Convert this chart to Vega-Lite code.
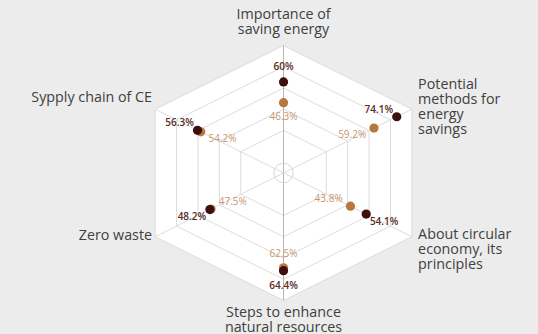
{
  "$schema": "https://vega.github.io/schema/vega-lite/v6.json",
  "width": 538,
  "height": 334,
  "autosize": {"type": "none"},
  "padding": 0,
  "background": "#ececec",
  "config": {"view": {"stroke": null}, "font": "Open Sans"},
  "datasets": {
    "scores": [
      {"k": 0, "category": "Importance of saving energy", "series": "orange", "value": 46.3},
      {"k": 1, "category": "Potential methods for energy savings", "series": "orange", "value": 59.2},
      {"k": 2, "category": "About circular economy, its principles", "series": "orange", "value": 43.8},
      {"k": 3, "category": "Steps to enhance natural resources", "series": "orange", "value": 62.5},
      {"k": 4, "category": "Zero waste", "series": "orange", "value": 47.5},
      {"k": 5, "category": "Sypply chain of CE", "series": "orange", "value": 54.2},
      {"k": 0, "category": "Importance of saving energy", "series": "dark", "value": 60},
      {"k": 1, "category": "Potential methods for energy savings", "series": "dark", "value": 74.1},
      {"k": 2, "category": "About circular economy, its principles", "series": "dark", "value": 54.1},
      {"k": 3, "category": "Steps to enhance natural resources", "series": "dark", "value": 64.4},
      {"k": 4, "category": "Zero waste", "series": "dark", "value": 48.2},
      {"k": 5, "category": "Sypply chain of CE", "series": "dark", "value": 56.3}
    ],
    "rings": [
      {"level": 2, "k": [0, 1, 2, 3, 4, 5, 6]},
      {"level": 3, "k": [0, 1, 2, 3, 4, 5, 6]},
      {"level": 4, "k": [0, 1, 2, 3, 4, 5, 6]},
      {"level": 5, "k": [0, 1, 2, 3, 4, 5, 6]},
      {"level": 6, "k": [0, 1, 2, 3, 4, 5, 6]}
    ],
    "spokes": [
      {"k": 0, "r": [0, 1]},
      {"k": 1, "r": [0, 1]},
      {"k": 2, "r": [0, 1]},
      {"k": 3, "r": [0, 1]},
      {"k": 4, "r": [0, 1]},
      {"k": 5, "r": [0, 1]}
    ],
    "hexfill": [
      {"k": 5, "k2": 4},
      {"k": 0, "k2": 3},
      {"k": 1, "k2": 2}
    ],
    "titles": [
      {"k": 0, "label": "Importance of\nsaving energy"},
      {"k": 1, "label": "Potential\nmethods for\nenergy\nsavings"},
      {"k": 2, "label": "About circular\neconomy, its\nprinciples"},
      {"k": 3, "label": "Steps to enhance\nnatural resources"},
      {"k": 4, "label": "Zero waste"},
      {"k": 5, "label": "Sypply chain of CE"}
    ]
  },
  "layer": [
    {
      "data": {"name": "hexfill"},
      "transform": [
        {"calculate": "sin(datum.k * PI / 3)", "as": "x"},
        {"calculate": "cos(datum.k * PI / 3)", "as": "y"},
        {"calculate": "cos(datum.k2 * PI / 3)", "as": "y2"}
      ],
      "mark": {"type": "area", "color": "#ffffff", "opacity": 1},
      "encoding": {
        "x": {"field": "x", "type": "quantitative", "scale": {"domain": [-1.913, 1.717], "nice": false, "zero": false}, "axis": null},
        "y": {"field": "y", "type": "quantitative", "scale": {"domain": [-1.263, 1.357], "nice": false, "zero": false}, "axis": null},
        "y2": {"field": "y2"}
      }
    },
    {
      "data": {"name": "rings"},
      "transform": [
        {"flatten": ["k"]},
        {"calculate": "datum.level / 6 * sin(datum.k * PI / 3)", "as": "x"},
        {"calculate": "datum.level / 6 * cos(datum.k * PI / 3)", "as": "y"}
      ],
      "mark": {"type": "line", "color": "#dcdcdc", "strokeWidth": 1},
      "encoding": {
        "x": {"field": "x", "type": "quantitative"},
        "y": {"field": "y", "type": "quantitative"},
        "detail": {"field": "level"},
        "order": {"field": "k", "type": "quantitative"}
      }
    },
    {
      "data": {"name": "spokes"},
      "transform": [
        {"flatten": ["r"]},
        {"calculate": "datum.r * sin(datum.k * PI / 3)", "as": "x"},
        {"calculate": "datum.r * cos(datum.k * PI / 3)", "as": "y"}
      ],
      "mark": {"type": "line", "strokeWidth": 1},
      "encoding": {
        "x": {"field": "x", "type": "quantitative"},
        "y": {"field": "y", "type": "quantitative"},
        "detail": {"field": "k"},
        "order": {"field": "r", "type": "quantitative"},
        "color": {"condition": {"test": "datum.k == 0 || datum.k == 3", "value": "#b4b4b4"}, "value": "#dcdcdc"}
      }
    },
    {
      "data": {"values": [{"c": 0}]},
      "mark": {"type": "point", "shape": "circle", "size": 380, "filled": false, "color": "#d6d6d6", "strokeWidth": 1, "opacity": 1},
      "encoding": {
        "x": {"field": "c", "type": "quantitative"},
        "y": {"field": "c", "type": "quantitative"}
      }
    },
    {
      "data": {"name": "scores"},
      "transform": [
        {"calculate": "datum.value / 84", "as": "r"},
        {"calculate": "datum.r * sin(datum.k * PI / 3)", "as": "x"},
        {"calculate": "datum.r * cos(datum.k * PI / 3)", "as": "y"}
      ],
      "mark": {"type": "circle", "size": 85, "opacity": 1},
      "encoding": {
        "x": {"field": "x", "type": "quantitative"},
        "y": {"field": "y", "type": "quantitative"},
        "color": {"field": "series", "type": "nominal", "scale": {"domain": ["dark", "orange"], "range": ["#3d0f0d", "#b8773c"]}, "legend": null}
      }
    },
    {
      "data": {"name": "scores"},
      "transform": [
        {"filter": "datum.series == 'dark'"},
        {"calculate": "datum.value / 84", "as": "r"},
        {"calculate": "datum.k == 1 ? datum.r * sin(datum.k * PI / 3) - 0.121 : datum.r * sin(datum.k * PI / 3) + 0.14 * sin(datum.k * PI / 3)", "as": "lx"},
        {"calculate": "datum.k == 1 ? datum.r * cos(datum.k * PI / 3) + 0.055 : datum.r * cos(datum.k * PI / 3) + 0.12 * cos(datum.k * PI / 3)", "as": "ly"},
        {"calculate": "datum.value + '%'", "as": "txt"}
      ],
      "mark": {"type": "text", "fontSize": 10, "fontWeight": 600, "color": "#5a2b23", "align": "center", "baseline": "middle"},
      "encoding": {
        "x": {"field": "lx", "type": "quantitative"},
        "y": {"field": "ly", "type": "quantitative"},
        "text": {"field": "txt"}
      }
    },
    {
      "data": {"name": "scores"},
      "transform": [
        {"filter": "datum.series == 'orange'"},
        {"calculate": "datum.value / 84", "as": "r"},
        {"calculate": "datum.r * sin(datum.k * PI / 3) - 0.17 * sin(datum.k * PI / 3)", "as": "lx"},
        {"calculate": "datum.r * cos(datum.k * PI / 3) - 0.11 * cos(datum.k * PI / 3)", "as": "ly"},
        {"calculate": "datum.value + '%'", "as": "txt"}
      ],
      "mark": {"type": "text", "fontSize": 10, "color": "#c9966b", "align": "center", "baseline": "middle"},
      "encoding": {
        "x": {"field": "lx", "type": "quantitative"},
        "y": {"field": "ly", "type": "quantitative"},
        "text": {"field": "txt"}
      }
    },
    {
      "data": {"name": "titles"},
      "transform": [
        {"filter": "datum.k == 0 || datum.k == 3"},
        {"calculate": "[1.239, 0.69, -0.486, -1.1, -0.494, 0.586][datum.k]", "as": "ty"},
        {"calculate": "0", "as": "tx"}
      ],
      "mark": {"type": "text", "fontSize": 14.3, "color": "#404040", "align": "center", "baseline": "middle", "lineBreak": "\n", "lineHeight": 15},
      "encoding": {
        "x": {"field": "tx", "type": "quantitative"},
        "y": {"field": "ty", "type": "quantitative"},
        "text": {"field": "label"}
      }
    },
    {
      "data": {"name": "titles"},
      "transform": [
        {"filter": "datum.k == 1 || datum.k == 2"},
        {"calculate": "[1.239, 0.69, -0.486, -1.1, -0.494, 0.586][datum.k]", "as": "ty"},
        {"calculate": "0.908", "as": "tx"}
      ],
      "mark": {"type": "text", "fontSize": 14.3, "color": "#404040", "align": "left", "baseline": "middle", "lineBreak": "\n", "lineHeight": 15},
      "encoding": {
        "x": {"field": "tx", "type": "quantitative"},
        "y": {"field": "ty", "type": "quantitative"},
        "text": {"field": "label"}
      }
    },
    {
      "data": {"name": "titles"},
      "transform": [
        {"filter": "datum.k == 4 || datum.k == 5"},
        {"calculate": "[1.239, 0.69, -0.486, -1.1, -0.494, 0.586][datum.k]", "as": "ty"},
        {"calculate": "-0.887", "as": "tx"}
      ],
      "mark": {"type": "text", "fontSize": 14.3, "color": "#404040", "align": "right", "baseline": "middle", "lineBreak": "\n", "lineHeight": 15},
      "encoding": {
        "x": {"field": "tx", "type": "quantitative"},
        "y": {"field": "ty", "type": "quantitative"},
        "text": {"field": "label"}
      }
    }
  ]
}
